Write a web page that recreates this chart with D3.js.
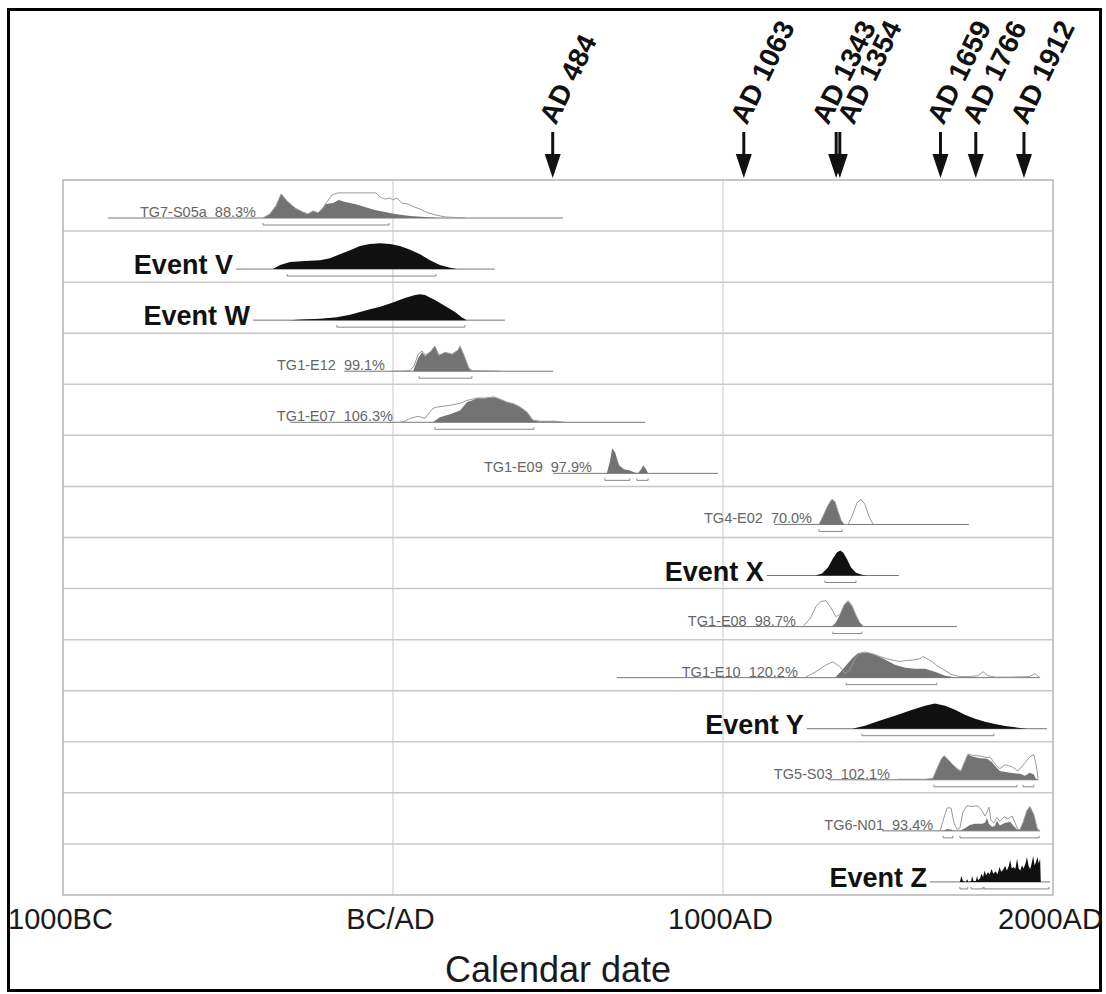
<!DOCTYPE html>
<html><head><meta charset="utf-8">
<script src="https://cdn.jsdelivr.net/npm/d3@7"></script>
<style>
body{margin:0;background:#fff}
text{font-family:"Liberation Sans",Arial,Helvetica,sans-serif}
</style>
</head><body>
<svg id="chart" width="1106" height="994"></svg>
<script>
// ---- data (calendar years, BC negative; densities relative to peak) ----
const rowNames = ["TG7-S05a","Event V","Event W","TG1-E12","TG1-E07","TG1-E09","TG4-E02",
  "Event X","TG1-E08","TG1-E10","Event Y","TG5-S03","TG6-N01","Event Z"];
const agreement = [88.3,null,null,99.1,106.3,97.9,70.0,null,98.7,120.2,null,102.1,93.4,null];
const lineSpans = [[-864,515],[-476,309],[-424,339],[-148,485],[-312,764],[485,985],[1155,1745],
  [1133,1533],[930,1709],[679,1960],[1254,1982],[1318,1955],[1482,1961],[1627,1991]];

// posterior (modelled) densities
const posterior = [
  [[-394,0],[-373,.15],[-355,.44],[-339,.89],[-321,.63],[-297,.37],[-273,.22],[-258,.15],[-242,.26],[-227,.19],[-215,.33],[-203,.52],[-182,.56],[-164,.67],[-145,.59],[-115,.52],[-85,.41],[-55,.30],[-24,.22],[6,.15],[52,.07],[97,.04],[142,0]],
  [[-364,0],[-342,.15],[-312,.26],[-267,.3],[-221,.33],[-191,.4],[-161,.55],[-130,.7],[-100,.85],[-70,.93],[-39,.96],[-9,.93],[21,.85],[52,.72],[82,.55],[112,.33],[142,.15],[173,.05],[194,0]],
  [[-312,0],[-280,.02],[-221,.05],[-170,.11],[-130,.2],[-100,.3],[-70,.4],[-39,.5],[0,.65],[36,.82],[67,.93],[82,.96],[97,.93],[127,.75],[158,.52],[188,.3],[209,.1],[224,0]],
  [[61,0],[76,.48],[88,.70],[97,.56],[112,.70],[127,.93],[139,.59],[158,.70],[179,.63],[197,.78],[203,.93],[215,.59],[230,.11],[239,.02],[294,.01],[324,0]],
  [[121,0],[142,.19],[173,.3],[203,.44],[224,.74],[239,.81],[255,.89],[279,.89],[306,.93],[324,.85],[345,.74],[367,.67],[385,.56],[406,.37],[424,.07],[445,.04],[491,.04],[521,0]],
  [[624,0],[648,0],[658,.48],[664,.93],[673,.78],[685,.3],[700,.15],[718,.11],[730,.04],[742,0],[752,.15],[758,.3],[767,.15],[773,0]],
  [[1291,0],[1303,.3],[1318,.7],[1330,.93],[1339,.85],[1348,.5],[1358,.15],[1367,0]],
  [[1279,0],[1300,.07],[1318,.3],[1333,.63],[1345,.85],[1355,.93],[1364,.85],[1376,.6],[1388,.3],[1403,.1],[1421,.03],[1436,0]],
  [[1330,0],[1342,.15],[1355,.45],[1367,.8],[1379,.93],[1391,.75],[1403,.4],[1415,.12],[1427,0]],
  [[1339,0],[1355,.2],[1376,.5],[1394,.75],[1409,.9],[1424,.93],[1442,.91],[1461,.85],[1491,.67],[1521,.48],[1552,.37],[1582,.33],[1612,.33],[1642,.22],[1673,.07],[1688,.04],[1703,0]],
  [[1391,0],[1430,.11],[1476,.3],[1521,.48],[1567,.67],[1612,.85],[1642,.93],[1673,.85],[1703,.7],[1733,.52],[1764,.37],[1794,.26],[1824,.17],[1855,.1],[1885,.05],[1921,0]],
  [[1527,0],[1530,.02],[1612,.02],[1636,.05],[1648,.4],[1661,.75],[1670,.89],[1682,.75],[1697,.55],[1712,.38],[1721,.33],[1730,.6],[1742,.93],[1758,.85],[1779,.8],[1800,.78],[1815,.65],[1824,.52],[1839,.33],[1870,.26],[1900,.22],[1915,.15],[1930,.26],[1942,.2],[1948,.04],[1955,0]],
  [[1667,0],[1679,.07],[1691,.05],[1700,0],[1718,0],[1733,.1],[1748,.22],[1764,.26],[1785,.26],[1794,.3],[1800,.48],[1806,.25],[1815,.15],[1824,.18],[1830,.37],[1839,.2],[1855,.3],[1870,.33],[1879,.2],[1891,.05],[1900,.05],[1909,.3],[1921,.75],[1930,.9],[1942,.6],[1952,.1],[1958,0]],
  [[1718,0],[1722,.22],[1727,.04],[1736,0],[1740,.1],[1744,0],[1752,.03],[1755,.22],[1759,.03],[1766,.03],[1770,.22],[1773,.06],[1779,.14],[1783,.3],[1788,.18],[1793,.42],[1797,.24],[1803,.36],[1808,.28],[1814,.48],[1819,.3],[1826,.4],[1832,.28],[1838,.55],[1843,.38],[1849,.45],[1855,.6],[1860,.42],[1866,.58],[1870,.82],[1875,.5],[1881,.55],[1886,.48],[1891,.86],[1896,.5],[1901,.42],[1906,.62],[1911,.5],[1917,.7],[1921,.92],[1926,.6],[1931,.48],[1936,.72],[1940,.96],[1944,.62],[1948,.72],[1953,.92],[1957,.68],[1961,.86],[1963,0]]
];

// prior (unmodelled) likelihoods, drawn as outlines
const prior = [
  [[-394,0],[-373,.15],[-355,.44],[-339,.89],[-321,.63],[-297,.37],[-273,.22],[-258,.15],[-242,.26],[-227,.19],[-215,.33],[-203,.55],[-185,.85],[-167,.93],[-130,.93],[-85,.93],[-52,.93],[-39,.78],[-24,.70],[-9,.74],[0,.67],[12,.74],[27,.55],[45,.52],[64,.41],[82,.33],[106,.19],[130,.11],[158,.04],[188,.02],[218,0]],
  null, null,
  [[-3,0],[36,.01],[52,.03],[64,.2],[76,.62],[88,.75],[97,.6],[112,.7],[127,.93],[139,.59],[158,.7],[179,.63],[197,.78],[203,.93],[215,.59],[230,.11],[239,.02],[294,.01],[324,0]],
  [[21,0],[36,.04],[52,.15],[76,.22],[97,.15],[121,.52],[133,.56],[173,.63],[203,.7],[224,.81],[239,.85],[255,.9],[279,.9],[306,.94],[324,.86],[345,.75],[367,.68],[385,.57],[406,.38],[424,.08],[445,.04],[491,.04],[521,0]],
  null,
  [[1291,0],[1303,.3],[1318,.7],[1330,.93],[1339,.85],[1348,.5],[1358,.15],[1367,0],[1379,0],[1391,.3],[1406,.8],[1418,.93],[1430,.75],[1442,.3],[1455,0]],
  null,
  [[1242,0],[1264,.3],[1282,.75],[1297,.93],[1312,.96],[1327,.7],[1342,.37],[1355,.45],[1367,.8],[1379,.96],[1391,.78],[1403,.42],[1415,.13],[1427,0]],
  [[1248,0],[1279,.2],[1309,.45],[1333,.59],[1355,.4],[1370,.15],[1385,.3],[1400,.7],[1415,.9],[1430,.95],[1452,.89],[1476,.78],[1497,.7],[1521,.63],[1536,.6],[1552,.63],[1573,.65],[1597,.7],[1606,.78],[1618,.7],[1633,.6],[1648,.45],[1673,.26],[1694,.11],[1718,.04],[1748,.04],[1773,.07],[1788,.22],[1803,.07],[1824,.02],[1870,.02],[1930,.04],[1945,.15],[1958,.02],[1961,0]],
  null,
  [[1527,0],[1530,.02],[1612,.02],[1636,.05],[1648,.4],[1661,.75],[1670,.89],[1682,.75],[1697,.55],[1712,.38],[1721,.33],[1730,.6],[1742,.95],[1758,.9],[1779,.88],[1800,.82],[1809,.85],[1824,.59],[1839,.41],[1855,.56],[1876,.48],[1894,.33],[1915,.63],[1930,.85],[1942,.93],[1948,.6],[1952,.33],[1955,0]],
  [[1658,0],[1670,.5],[1679,.85],[1691,.85],[1700,.3],[1709,.05],[1718,.1],[1727,.7],[1739,.93],[1755,.9],[1770,.93],[1782,.8],[1794,.55],[1800,.7],[1806,.88],[1812,.4],[1821,.3],[1830,.5],[1839,.35],[1852,.52],[1864,.45],[1876,.55],[1885,.3],[1894,.05],[1900,.05],[1909,.3],[1921,.75],[1930,.9],[1942,.6],[1952,.1],[1958,0]],
  null
];

// highest posterior density ranges
const hpdRanges = [
  [[-394,-12]],[[-321,130]],[[-170,218]],[[79,239]],[[127,427]],[[642,718],[739,773]],
  [[1291,1361]],[[1309,1403]],[[1333,1421]],[[1373,1648]],[[1421,1821]],
  [[1639,1891],[1909,1942]],[[1667,1697],[1718,1958]],[[1718,1742],[1752,1788],[1791,1988]]
];

const markerYears = [484, 1063, 1343, 1354, 1659, 1766, 1912];
const tickYears = [-1000, 0, 1000, 2000];
const tickLabels = ["1000BC", "BC/AD", "1000AD", "2000AD"];
const axisTitle = "Calendar date";

// ---- layout ----
const svg = d3.select("#chart");
const plotLeft = 63, plotRight = 1053, plotTop = 180, plotBottom = 895;
const nRows = rowNames.length;
const x = d3.scaleLinear().domain([-1000, 2000]).range([plotLeft, plotRight]);
const rowY = d3.scaleLinear().domain([0, nRows]).range([plotTop, plotBottom]);
const h = d3.scaleLinear().domain([0, 1]).range([0, 27]);
const base = i => rowY(i) + 38;

// outer frame
svg.append("rect").attr("x", 8.5).attr("y", 9.5).attr("width", 1092).attr("height", 981)
  .attr("fill", "none").attr("stroke", "#000").attr("stroke-width", 3);

// vertical grid at BC/AD and 1000AD
svg.append("g").selectAll("line").data([0, 1000]).join("line")
  .attr("x1", d => x(d)).attr("x2", d => x(d)).attr("y1", plotTop).attr("y2", plotBottom)
  .attr("stroke", "#d2d2d2").attr("stroke-width", 1.2);

// row separators
svg.append("g").selectAll("line").data(d3.range(1, nRows)).join("line")
  .attr("x1", plotLeft).attr("x2", plotRight).attr("y1", d => rowY(d)).attr("y2", d => rowY(d))
  .attr("stroke", "#c8c8c8").attr("stroke-width", 1.5);

// plot box
svg.append("rect").attr("x", plotLeft).attr("y", plotTop)
  .attr("width", plotRight - plotLeft).attr("height", plotBottom - plotTop)
  .attr("fill", "none").attr("stroke", "#b4b4b4").attr("stroke-width", 1.5);

const area = (i) => d3.area().x(d => x(d[0])).y0(base(i)).y1(d => base(i) - h(d[1]));
const line = (i) => d3.line().x(d => x(d[0])).y(d => base(i) - h(d[1]));

rowNames.forEach((name, i) => {
  const g = svg.append("g");
  const isEvent = agreement[i] === null;
  const b = base(i);
  // time axis line for the row
  g.append("line").attr("x1", x(lineSpans[i][0])).attr("x2", x(lineSpans[i][1]))
    .attr("y1", b).attr("y2", b).attr("stroke", "#777").attr("stroke-width", 1);
  // label
  if (isEvent) {
    g.append("text").attr("x", x(lineSpans[i][0]) - 3).attr("y", b + 5)
      .attr("text-anchor", "end").attr("font-size", 27).attr("font-weight", "bold")
      .attr("fill", "#111").text(name);
  } else {
    const firstYear = d3.min([posterior[i], prior[i]].filter(Boolean), s => s[0][0]);
    g.append("text").attr("x", x(firstYear) - 7).attr("y", b - 1)
      .attr("text-anchor", "end").attr("font-size", 14.5).attr("fill", "#666")
      .style("white-space", "pre")
      .text(name + "  " + agreement[i].toFixed(1) + "%");
  }
  // posterior fill
  g.append("path").datum(posterior[i]).attr("d", area(i))
    .attr("fill", isEvent ? "#111" : "#737373").attr("stroke", "none");
  // prior outline
  if (prior[i]) {
    g.append("path").datum(prior[i]).attr("d", line(i))
      .attr("fill", "none").attr("stroke", "#9a9a9a").attr("stroke-width", 1);
  }
  // ranges
  hpdRanges[i].forEach(r => {
    const y = b + 7;
    g.append("path")
      .attr("d", `M${x(r[0])},${y - 2}V${y}H${x(r[1])}V${y - 2}`)
      .attr("fill", "none").attr("stroke", "#888").attr("stroke-width", 1);
  });
});

// x axis labels
const axis = d3.axisBottom(x).tickValues(tickYears).tickSize(0).tickPadding(0)
  .tickFormat((d, k) => tickLabels[k]);
const ax = svg.append("g").attr("transform", `translate(0,${plotBottom})`).call(axis);
ax.select(".domain").remove();
ax.selectAll("text").attr("font-size", 29).attr("fill", "#1a1a1a")
  .attr("font-family", "Liberation Sans, Arial, sans-serif")
  .attr("dy", null).attr("y", 34).attr("dx", -3);

svg.append("text").attr("x", (plotLeft + plotRight) / 2).attr("y", 982).attr("text-anchor", "middle")
  .attr("font-size", 36).attr("fill", "#1a1a1a").text(axisTitle);

// date markers above the plot
const mg = svg.append("g");
markerYears.forEach((yr, k) => {
  const ax0 = x(yr);
  let off = 3;
  const prev = k > 0 ? x(markerYears[k - 1]) : -1e9;
  const next = k < markerYears.length - 1 ? x(markerYears[k + 1]) : 1e9;
  if (next - ax0 < 15) off = -8;
  else if (ax0 - prev < 15) off = 14;
  mg.append("line").attr("x1", ax0).attr("x2", ax0).attr("y1", 132).attr("y2", 160)
    .attr("stroke", "#111").attr("stroke-width", 3);
  mg.append("path").attr("d", `M${ax0 - 8},154L${ax0 + 8},154L${ax0},178Z`).attr("fill", "#111");
  mg.append("text").attr("transform", `translate(${ax0 + off},126) rotate(-64)`)
    .attr("font-size", 28).attr("font-weight", "bold").attr("fill", "#111")
    .text("AD " + yr);
});
</script>
</body></html>
